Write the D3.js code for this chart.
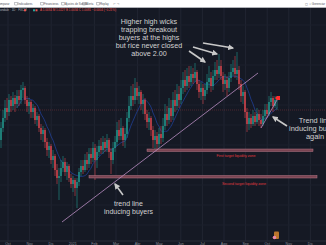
<!DOCTYPE html>
<html>
<head>
<meta charset="utf-8">
<script src="https://cdn.jsdelivr.net/npm/d3@7"></script>
<style>
  body { margin: 0; background: #151924; overflow: hidden; }
  svg { display: block; }
</style>
</head>
<body>
<svg id="chart"></svg>
<script>
// ---------- Data ---------- //

var firstOpen = 1.25;

var closes = [
  1.37,1.47,1.57,1.53,1.65,1.59,1.67,1.61,1.69,1.65,
  1.75,1.77,1.65,1.59,1.63,1.53,1.57,1.45,1.49,1.37,
  1.31,1.35,1.23,1.15,1.19,1.05,1.09,0.95,0.87,0.89,
  0.97,1.03,0.93,0.99,0.87,0.81,0.85,0.77,0.83,0.93,
  0.99,0.95,1.05,1.01,1.11,1.07,1.17,1.05,1.13,1.19,
  1.15,1.23,1.17,1.25,1.13,1.05,1.17,1.23,1.35,1.29,
  1.37,1.25,1.31,1.47,1.59,1.69,1.65,1.77,1.69,1.73,
  1.61,1.65,1.51,1.43,1.47,1.35,1.25,1.29,1.21,1.31,
  1.27,1.39,1.51,1.45,1.57,1.49,1.65,1.59,1.71,1.65,
  1.77,1.85,1.79,1.89,1.83,1.91,1.87,1.93,1.81,1.73,
  1.77,1.69,1.75,1.83,1.87,1.79,1.89,1.95,1.91,1.99,
  1.89,1.81,1.85,1.77,1.87,1.93,1.97,1.91,1.95,1.81,
  1.69,1.73,1.53,1.41,1.47,1.41,1.49,1.43,1.51,1.45,
  1.41,1.49,1.55,1.51,1.63,1.67,1.59,1.65,1.67
];

var highs = [
  1.43,1.55,1.65,1.67,1.71,1.69,1.73,1.70,1.75,1.75,
  1.80,1.83,1.79,1.69,1.67,1.65,1.61,1.59,1.53,1.51,
  1.41,1.39,1.37,1.27,1.23,1.21,1.15,1.11,1.01,0.97,
  1.05,1.09,1.07,1.03,1.01,0.91,0.89,0.87,0.87,0.97,
  1.05,1.05,1.11,1.13,1.17,1.17,1.23,1.21,1.19,1.25,
  1.27,1.29,1.27,1.31,1.27,1.17,1.23,1.29,1.43,1.45,
  1.47,1.39,1.37,1.53,1.69,1.79,1.81,1.87,1.83,1.79,
  1.75,1.71,1.67,1.55,1.53,1.49,1.39,1.35,1.33,1.37,
  1.39,1.47,1.61,1.59,1.67,1.65,1.73,1.75,1.81,1.79,
  1.85,1.93,1.95,1.97,1.99,1.99,1.97,2.02,1.95,1.85,
  1.83,1.81,1.81,1.91,1.99,1.93,1.95,2.03,2.05,2.11,
  2.05,1.93,1.91,1.89,1.93,2.01,2.05,2.09,2.13,1.99,
  1.85,1.79,1.75,1.57,1.53,1.51,1.55,1.53,1.57,1.55,
  1.51,1.55,1.61,1.61,1.69,1.73,1.69,1.69,1.69
];

var lows = [
  1.17,1.33,1.43,1.45,1.49,1.53,1.55,1.53,1.57,1.59,
  1.61,1.67,1.61,1.53,1.51,1.47,1.47,1.41,1.39,1.33,
  1.25,1.23,1.17,1.09,1.07,1.01,0.97,0.89,0.81,0.65,
  0.83,0.93,0.89,0.85,0.83,0.77,0.73,0.69,0.57,0.79,
  0.89,0.91,0.93,0.95,0.97,1.01,1.03,0.85,0.97,1.09,
  1.11,1.11,1.13,1.13,1.07,0.91,1.01,1.13,1.19,1.25,
  1.25,1.19,1.17,1.27,1.43,1.55,1.59,1.61,1.65,1.61,
  1.55,1.51,1.45,1.37,1.35,1.29,1.17,1.15,1.15,1.17,
  1.21,1.23,1.35,1.39,1.41,1.43,1.45,1.53,1.55,1.57,
  1.61,1.71,1.73,1.75,1.77,1.79,1.81,1.83,1.75,1.67,
  1.65,1.61,1.65,1.71,1.77,1.73,1.75,1.85,1.85,1.87,
  1.85,1.73,1.75,1.69,1.73,1.83,1.89,1.87,1.85,1.75,
  1.63,1.61,1.47,1.33,1.35,1.37,1.39,1.39,1.41,1.39,
  1.37,1.39,1.45,1.47,1.49,1.59,1.53,1.57,1.55
];

// x-axis ticks (candle index) and their labels
var tickIndex = [3.5,14.3,25.1,35.9,46.7,57.5,68.3,79.1,89.9,100.7,111.5,122.3,133.1,143.9,154.7];
var tickLabels = ["Oct","Nov","Dic","2021","Feb","Mar","Abr","May","Jun","Jul","Ago","Sep","Oct","Nov","Dic"];

// drawn objects, in [index, price] units
var trendLines = [[30.5, 0.43, 128.5, 1.92], [130, 1.37, 138, 1.65]];
var zones = [[73, 156, 1.16, 1.135], [44, 158, 0.895, 0.87]];
var zoneLabels = ["First target liquidity zone", "Second target liquidity zone"];
var zoneLabelPos = [[117.5, 1.085], [121.5, 0.805]];
var priceLine = 1.55;

var arrows = [
  [101, 2.22, 116, 2.17],
  [96, 2.18, 108, 2.11],
  [94, 2.14, 102, 2.03],
  [61, 0.70, 57, 0.81],
  [143, 1.39, 136, 1.48]
];

var notes = [
  { at: [74, 2.41], size: 7.2, lines: ["Higher high wicks", "trapping breakout", "buyers at the highs", "but rice never closed", "above 2.00"] },
  { at: [157, 1.425], size: 7.4, lines: ["Trend line", "inducing buyers", "again"] },
  { at: [63.75, 0.595], size: 7, lines: ["trend line", "inducing buyers"] }
];

// ---------- Setup ---------- //

var width = 326;
var height = 245;
var plotTop = 7.5;
var plotBottom = 241;

var svg = d3.select("#chart")
    .attr("width", width)
    .attr("height", height);

var x = d3.scaleLinear().domain([0, 162.5]).range([1, 326]);
var y = d3.scaleLinear().domain([2.55, 0.25]).range([10, 240]);

var candles = closes.map(function(c, i) {
  return {
    i: i,
    open: i === 0 ? firstOpen : closes[i - 1],
    high: highs[i],
    low: lows[i],
    close: c
  };
});

svg.append("rect")
    .attr("width", width)
    .attr("height", height)
    .attr("fill", "#151924");

var defs = svg.append("defs");
defs.append("clipPath").attr("id", "plot")
  .append("rect")
    .attr("x", 0).attr("y", plotTop)
    .attr("width", width).attr("height", plotBottom - plotTop);

defs.append("marker")
    .attr("id", "head")
    .attr("markerUnits", "userSpaceOnUse")
    .attr("viewBox", "0 0 10 10")
    .attr("refX", 8).attr("refY", 5)
    .attr("markerWidth", 6).attr("markerHeight", 6)
    .attr("orient", "auto")
  .append("path")
    .attr("d", "M0,0L10,5L0,10z")
    .attr("fill", "#c9c9c9");

var plot = svg.append("g").attr("clip-path", "url(#plot)");

// --- Grid --- //

plot.append("g").selectAll("line")
    .data(tickIndex)
    .join("line")
    .attr("x1", function(d) { return x(d); })
    .attr("x2", function(d) { return x(d); })
    .attr("y1", plotTop).attr("y2", plotBottom)
    .attr("stroke", "#212532")
    .attr("stroke-width", 1);

plot.append("g").selectAll("line")
    .data(y.ticks(10))
    .join("line")
    .attr("x1", 0).attr("x2", width)
    .attr("y1", function(d) { return y(d); })
    .attr("y2", function(d) { return y(d); })
    .attr("stroke", "#1d212d")
    .attr("stroke-width", 1);

// --- Price line --- //

plot.append("line")
    .attr("x1", 0).attr("x2", width)
    .attr("y1", y(priceLine)).attr("y2", y(priceLine))
    .attr("stroke", "#ef5350")
    .attr("stroke-opacity", 0.25)
    .attr("stroke-dasharray", "1,1");

// --- Moving average --- //

var ma = candles.slice(8).map(function(d) {
  return { i: d.i, v: d3.mean(closes.slice(d.i - 8, d.i + 1)) };
});

plot.append("path")
    .datum(ma)
    .attr("fill", "none")
    .attr("stroke", "#2962ff")
    .attr("stroke-opacity", 0.4)
    .attr("stroke-width", 1)
    .attr("d", d3.line().curve(d3.curveMonotoneX)
        .x(function(d) { return x(d.i); })
        .y(function(d) { return y(d.v); }));

// --- Candles --- //

var up = "#22998e";
var down = "#d9474d";

var candle = plot.append("g").selectAll("g")
    .data(candles)
    .join("g")
    .attr("fill", function(d) { return d.close >= d.open ? up : down; })
    .attr("stroke", function(d) { return d.close >= d.open ? up : down; });

candle.append("line")
    .attr("x1", function(d) { return x(d.i); })
    .attr("x2", function(d) { return x(d.i); })
    .attr("y1", function(d) { return y(d.high); })
    .attr("y2", function(d) { return y(d.low); })
    .attr("stroke-width", 0.6);

candle.append("rect")
    .attr("stroke", "none")
    .attr("x", function(d) { return x(d.i) - 0.7; })
    .attr("width", 1.4)
    .attr("y", function(d) { return y(Math.max(d.open, d.close)); })
    .attr("height", function(d) { return Math.max(0.6, Math.abs(y(d.open) - y(d.close))); });

// --- Liquidity zones --- //

plot.append("g").selectAll("rect")
    .data(zones)
    .join("rect")
    .attr("x", function(d) { return x(d[0]); })
    .attr("width", function(d) { return x(d[1]) - x(d[0]); })
    .attr("y", function(d) { return y(d[2]); })
    .attr("height", function(d) { return y(d[3]) - y(d[2]); })
    .attr("fill", "#7a4452")
    .attr("stroke", "#b77888")
    .attr("stroke-width", 0.5);

plot.append("g").selectAll("text")
    .data(zoneLabels)
    .join("text")
    .attr("x", function(d, i) { return x(zoneLabelPos[i][0]); })
    .attr("y", function(d, i) { return y(zoneLabelPos[i][1]); })
    .attr("text-anchor", "middle")
    .attr("font-family", "Liberation Sans, Arial, sans-serif")
    .attr("font-size", "3.6px")
    .attr("fill", "#e0393f")
    .text(function(d) { return d; });

// --- Trend lines --- //

plot.append("g").selectAll("line")
    .data(trendLines)
    .join("line")
    .attr("x1", function(d) { return x(d[0]); })
    .attr("y1", function(d) { return y(d[1]); })
    .attr("x2", function(d) { return x(d[2]); })
    .attr("y2", function(d) { return y(d[3]); })
    .attr("stroke", "#b98dc2")
    .attr("stroke-width", 0.8);

// last price marker
var last = candles[candles.length - 1];
plot.append("path")
    .attr("d", "M" + (x(last.i) - 2) + "," + y(last.close) + "l2,-2h3v4h-3z")
    .attr("fill", "#ff2b2b");

// --- Arrows --- //

plot.append("g").selectAll("line")
    .data(arrows)
    .join("line")
    .attr("x1", function(d) { return x(d[0]); })
    .attr("y1", function(d) { return y(d[1]); })
    .attr("x2", function(d) { return x(d[2]); })
    .attr("y2", function(d) { return y(d[3]); })
    .attr("stroke", "#c9c9c9")
    .attr("stroke-width", 1.6)
    .attr("marker-end", "url(#head)");

// --- Notes --- //

var note = plot.append("g").selectAll("text")
    .data(notes)
    .join("text")
    .attr("x", function(d) { return x(d.at[0]); })
    .attr("y", function(d) { return y(d.at[1]); })
    .attr("text-anchor", "middle")
    .attr("font-family", "Liberation Sans, Arial, sans-serif")
    .attr("font-size", function(d) { return d.size + "px"; })
    .attr("fill", "#d2d2d2");

note.selectAll("tspan")
    .data(function(d) { return d.lines; })
    .join("tspan")
    .attr("x", function() { return d3.select(this.parentNode).attr("x"); })
    .attr("dy", function(d, i) { return i === 0 ? 0 : 8; })
    .text(function(d) { return d; });

// --- X axis --- //

svg.append("line")
    .attr("x1", 0).attr("x2", width)
    .attr("y1", plotBottom).attr("y2", plotBottom)
    .attr("stroke", "#2a2e39");

svg.append("g").selectAll("text")
    .data(tickIndex)
    .join("text")
    .attr("x", function(d) { return x(d); })
    .attr("y", 245)
    .attr("text-anchor", "middle")
    .attr("font-family", "Liberation Sans, Arial, sans-serif")
    .attr("font-size", "3.6px")
    .attr("fill", "#8b8f9a")
    .text(function(d, i) { return tickLabels[i]; });

// events icon on the time axis
svg.append("rect")
    .attr("x", 274).attr("y", 231.5)
    .attr("width", 5).attr("height", 7.5)
    .attr("rx", 1)
    .attr("fill", "#b9752c");
svg.append("circle")
    .attr("cx", 274.5).attr("cy", 237.5)
    .attr("r", 1.8)
    .attr("fill", "#e889aa");

// --- Toolbar --- //

svg.append("rect")
    .attr("width", width).attr("height", plotTop)
    .attr("fill", "#ffffff");
svg.append("line")
    .attr("x1", 0).attr("x2", width)
    .attr("y1", plotTop).attr("y2", plotTop)
    .attr("stroke", "#d5d7dd").attr("stroke-width", 0.5);

var toolbar = [
  [-3, "Comparar"], [18, "Indicadores"], [44, "Financieros"],
  [65, "Ajustes de Sonell"], [86, "Alerta"], [100, "Replay"]
];

svg.append("g").selectAll("text")
    .data(toolbar)
    .join("text")
    .attr("x", function(d) { return d[0]; })
    .attr("y", 5)
    .attr("font-family", "Liberation Sans, Arial, sans-serif")
    .attr("font-size", "2.8px")
    .attr("fill", "#50535e")
    .text(function(d) { return d[1]; });

svg.append("g").selectAll("rect")
    .data(toolbar.slice(1))
    .join("rect")
    .attr("x", function(d) { return d[0] - 3.2; })
    .attr("y", 2.6)
    .attr("width", 2.4).attr("height", 2.4)
    .attr("fill", "none")
    .attr("stroke", "#6a6d78")
    .attr("stroke-width", 0.4);

svg.append("text")
    .attr("x", 113).attr("y", 5)
    .attr("font-family", "Liberation Sans, Arial, sans-serif")
    .attr("font-size", "3px")
    .attr("fill", "#9598a1")
    .text("\u21B6 \u21B7");

svg.append("text")
    .attr("x", 325).attr("y", 5)
    .attr("text-anchor", "end")
    .attr("font-family", "Liberation Sans, Arial, sans-serif")
    .attr("font-size", "3px")
    .attr("fill", "#50535e")
    .text("\u25A2  \u25CB Gerenciar");

// legend row
svg.append("text")
    .attr("x", 0).attr("y", 11.3)
    .attr("font-family", "Liberation Sans, Arial, sans-serif")
    .attr("font-size", "3px")
    .attr("fill", "#b2b5be")
    .text("ondale \u00B7 1D \u00B7 FXCM");

svg.append("rect").attr("x", 24).attr("y", 9.3).attr("width", 2).attr("height", 2).attr("fill", "#ef5350");
svg.append("rect").attr("x", 33).attr("y", 9.3).attr("width", 2).attr("height", 2).attr("fill", "#26a69a");
svg.append("rect").attr("x", 35.5).attr("y", 9.3).attr("width", 2).attr("height", 2).attr("fill", "#ef5350");

svg.append("text")
    .attr("x", 40).attr("y", 11.3)
    .attr("font-family", "Liberation Sans, Arial, sans-serif")
    .attr("font-size", "3px")
    .attr("fill", "#ef5350")
    .text("A 1.0034  M 1.0227  B 1.0034  C 1.0081  \u22120.0004 (\u22120.21%)");
</script>
</body>
</html>
